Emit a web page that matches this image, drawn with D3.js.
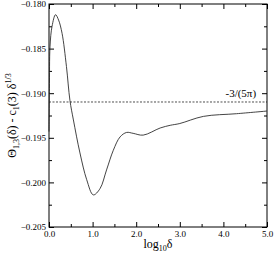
<!DOCTYPE html>
<html><head><meta charset="utf-8">
<script src="https://cdn.jsdelivr.net/npm/d3@7"></script>
<style>body{margin:0;background:#fff}svg{display:block}</style>
</head><body><svg id="c" width="277" height="254"></svg>
<script>
const logDelta = [0, 0.01, 0.023, 0.07, 0.15, 0.22, 0.3, 0.4, 0.48, 0.56, 0.71, 0.865, 1.016, 1.17, 1.32, 1.475, 1.63, 1.78, 1.93, 2.16, 2.55, 2.78, 3.0, 3.54, 4.3, 5.0];
const theta = [-0.1943, -0.1895, -0.1848, -0.1825, -0.1812, -0.1818, -0.1833, -0.1870, -0.1908, -0.1930, -0.1967, -0.1997, -0.2014, -0.2007, -0.1986, -0.1964, -0.1949, -0.1944, -0.1945, -0.1947, -0.1939, -0.1936, -0.1934, -0.1926, -0.1923, -0.1920];
const refValue = -3 / (5 * Math.PI);
const refLabel = "-3/(5π)";
const xTicks = [0, 1, 2, 3, 4, 5];
const yTicks = [-0.205, -0.2, -0.195, -0.19, -0.185, -0.18];

const m = {l: 49, t: 4, r: 10, b: 27};
const W = 277, H = 254;
const svg = d3.select("#c");
const x = d3.scaleLinear().domain([0, 5]).range([m.l, W - m.r]);
const y = d3.scaleLinear().domain([-0.205, -0.18]).range([H - m.b, m.t]);
const font = "'Liberation Serif', 'Times New Roman', serif";

const gx = svg.append("g").attr("transform", `translate(0,${H - m.b})`);
gx.call(d3.axisBottom(x).tickValues(xTicks).tickFormat(d3.format(".1f")).tickSizeInner(-5).tickSizeOuter(0).tickPadding(4));
const gxm = svg.append("g").attr("transform", `translate(0,${H - m.b})`);
gxm.call(d3.axisBottom(x).tickValues(d3.range(0.5, 5, 1)).tickFormat("").tickSizeInner(-3).tickSizeOuter(0));
const gt = svg.append("g").attr("transform", `translate(0,${m.t})`);
gt.call(d3.axisTop(x).tickValues(xTicks).tickFormat("").tickSizeInner(-5).tickSizeOuter(0));
const gtm = svg.append("g").attr("transform", `translate(0,${m.t})`);
gtm.call(d3.axisTop(x).tickValues(d3.range(0.5, 5, 1)).tickFormat("").tickSizeInner(-3).tickSizeOuter(0));

const gy = svg.append("g").attr("transform", `translate(${m.l},0)`);
gy.call(d3.axisLeft(y).tickValues(yTicks).tickFormat(d3.format(".3f")).tickSizeInner(-5).tickSizeOuter(0).tickPadding(3));
const gym = svg.append("g").attr("transform", `translate(${m.l},0)`);
gym.call(d3.axisLeft(y).tickValues(d3.range(0, 5).map(i => -0.2025 + i * 0.005)).tickFormat("").tickSizeInner(-3).tickSizeOuter(0));
const gr = svg.append("g").attr("transform", `translate(${W - m.r},0)`);
gr.call(d3.axisRight(y).tickValues(yTicks).tickFormat("").tickSizeInner(-5).tickSizeOuter(0));
const grm = svg.append("g").attr("transform", `translate(${W - m.r},0)`);
grm.call(d3.axisRight(y).tickValues(d3.range(0, 5).map(i => -0.2025 + i * 0.005)).tickFormat("").tickSizeInner(-3).tickSizeOuter(0));

svg.selectAll(".domain").remove();
svg.selectAll("g").attr("font-family", font);
svg.selectAll(".tick line").attr("stroke", "#000").attr("stroke-width", 1);
svg.selectAll(".tick text").attr("font-family", font).attr("font-size", 9).attr("fill", "#000");

svg.append("rect").attr("x", m.l).attr("y", m.t).attr("width", W - m.r - m.l).attr("height", H - m.b - m.t)
  .attr("fill", "none").attr("stroke", "#000").attr("stroke-width", 1);

// reference dashed line
svg.append("line").attr("x1", x(0)).attr("x2", x(5)).attr("y1", y(refValue)).attr("y2", y(refValue))
  .attr("stroke", "#000").attr("stroke-width", 0.7).attr("stroke-dasharray", "2,1.5");
svg.append("text").attr("x", x(4.75)).attr("y", y(refValue) - 5).attr("text-anchor", "end")
  .attr("font-family", font).attr("font-size", 11).text(refLabel);

const line = d3.line().x((d, i) => x(logDelta[i])).y(d => y(d)).curve(d3.curveCatmullRom.alpha(0.5));
svg.append("path").datum(theta).attr("d", line).attr("fill", "none").attr("stroke", "#222").attr("stroke-width", 0.85);

// x label
const xl = svg.append("text").attr("x", x(2.5)).attr("y", 248).attr("text-anchor", "middle")
  .attr("font-family", font).attr("font-size", 12);
xl.append("tspan").text("log");
xl.append("tspan").attr("font-size", 8).attr("dy", 3).text("10");
xl.append("tspan").attr("dy", -3).text("δ");

// y label
const yl = svg.append("text").attr("transform", `translate(16,${(m.t + H - m.b) / 2}) rotate(-90)`)
  .attr("text-anchor", "middle").attr("font-family", font).attr("font-size", 12);
yl.append("tspan").text("Θ");
yl.append("tspan").attr("font-size", 8).attr("dy", 3).text("1,3");
yl.append("tspan").attr("dy", -3).text("(δ) - c");
yl.append("tspan").attr("font-size", 8).attr("dy", 3).text("1");
yl.append("tspan").attr("dy", -3).text("(3) δ");
yl.append("tspan").attr("font-size", 8).attr("dy", -5).text("1/3");
</script></body></html>
